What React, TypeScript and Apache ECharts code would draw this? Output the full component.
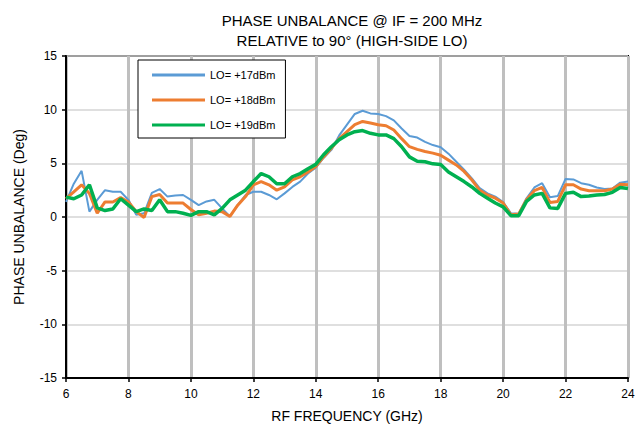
import React, { useEffect, useRef } from "react";
import * as echarts from "echarts";

const freq = [
  6.0, 6.25, 6.5, 6.75, 7.0, 7.25, 7.5, 7.75, 8.0, 8.25, 8.5, 8.75,
  9.0, 9.25, 9.5, 9.75, 10.0, 10.25, 10.5, 10.75, 11.0, 11.25, 11.5, 11.75,
  12.0, 12.25, 12.5, 12.75, 13.0, 13.25, 13.5, 13.75, 14.0, 14.25, 14.5, 14.75,
  15.0, 15.25, 15.5, 15.75, 16.0, 16.25, 16.5, 16.75, 17.0, 17.25, 17.5, 17.75,
  18.0, 18.25, 18.5, 18.75, 19.0, 19.25, 19.5, 19.75, 20.0, 20.25, 20.5, 20.75,
  21.0, 21.25, 21.5, 21.75, 22.0, 22.25, 22.5, 22.75, 23.0, 23.25, 23.5, 23.75,
  24.0,
];

const lo17 = [
  1.4, 3.1, 4.3, 0.5, 1.6, 2.5, 2.35, 2.35, 1.6, 0.2, 0.35, 2.25,
  2.6, 1.9, 2.0, 2.05, 1.6, 1.1, 1.45, 1.6, 0.8, 0.05, 1.1, 2.05,
  2.35, 2.35, 2.05, 1.65, 2.2, 2.8, 3.3, 4.05, 4.6, 5.5, 6.25, 7.6,
  8.6, 9.6, 9.9, 9.65, 9.6, 9.4, 9.0, 8.25, 7.55, 7.4, 7.0, 6.7,
  6.5, 5.9, 5.15, 4.4, 3.6, 2.7, 2.2, 1.9, 1.4, 0.35, 0.3, 1.75,
  2.75, 3.15, 1.85, 1.95, 3.55, 3.5, 3.15, 3.0, 2.75, 2.6, 2.65, 3.2,
  3.3,
];

const lo18 = [
  1.7, 2.35, 3.0, 2.2, 0.35, 1.4, 1.4, 1.8, 1.4, 0.5, -0.05, 1.9,
  2.1, 1.3, 1.3, 1.3, 0.7, 0.2, 0.35, 0.55, 0.5, 0.05, 1.1, 1.9,
  3.0, 3.3, 3.0, 2.5, 2.8, 3.45, 3.75, 4.2, 4.7, 5.6, 6.4, 7.3,
  7.95, 8.6, 8.9, 8.75, 8.6, 8.5, 8.1, 7.3, 6.55, 6.3, 6.1, 5.95,
  5.75, 5.3, 4.85, 4.25, 3.45, 2.5, 2.05, 1.75, 1.3, 0.2, 0.28, 1.6,
  2.45, 2.75, 1.35, 1.45, 3.0, 3.0, 2.6, 2.45, 2.45, 2.45, 2.6, 3.05,
  3.0,
];

const lo19 = [
  1.85, 1.7, 2.05, 3.0, 0.85, 0.6, 0.75, 1.7, 1.1, 0.5, 0.75, 0.6,
  1.6, 0.5, 0.5, 0.35, 0.15, 0.5, 0.5, 0.2, 0.8, 1.6, 2.05, 2.5,
  3.3, 4.05, 3.75, 3.1, 3.1, 3.75, 4.05, 4.5, 4.9, 5.8, 6.55, 7.2,
  7.65, 7.95, 8.05, 7.8, 7.65, 7.65, 7.3, 6.55, 5.6, 5.2, 5.15, 4.95,
  4.9, 4.2, 3.75, 3.3, 2.8, 2.2, 1.75, 1.3, 0.95, 0.12, 0.12, 1.45,
  2.05, 2.2, 0.85, 0.8, 2.2, 2.3, 1.9, 1.95, 2.05, 2.1, 2.3, 2.75,
  2.65,
];

const seriesNames = ["LO= +17dBm", "LO= +18dBm", "LO= +19dBm"];
const seriesColors = ["#5B9BD5", "#ED7D31", "#00B050"];
const seriesWidths = [2, 3, 3.5];
const titleLines = ["PHASE UNBALANCE @ IF = 200 MHz", "RELATIVE to 90\u00B0 (HIGH-SIDE LO)"];
const xName = "RF FREQUENCY (GHz)";
const yName = "PHASE UNBALANCE (Deg)";

const FONT = "'Liberation Sans', Arial, sans-serif";

export default function App() {
  const ref = useRef<HTMLDivElement>(null);
  useEffect(() => {
    if (!ref.current) return;
    const chart = echarts.init(ref.current, undefined, { renderer: "svg" });
    const all = [lo17, lo18, lo19];
    chart.setOption({
      animation: false,
      backgroundColor: "#ffffff",
      textStyle: { fontFamily: FONT, color: "#000" },
      title: {
        text: titleLines.join("\n"),
        left: 347,
        top: 5,
        textAlign: "center",
        textStyle: {
          fontFamily: FONT,
          fontSize: 15,
          fontWeight: "normal",
          color: "#000",
          lineHeight: 20,
        },
      },
      legend: {
        orient: "vertical",
        left: 138,
        top: 60,
        padding: [8, 10, 6, 14],
        itemGap: 11,
        itemWidth: 53,
        itemHeight: 3,
        icon: "rect",
        borderColor: "#000",
        borderWidth: 1,
        backgroundColor: "#fff",
        textStyle: { fontFamily: FONT, fontSize: 11, color: "#000", lineHeight: 14 },
        data: seriesNames,
      },
      grid: {
        left: 66,
        right: 15,
        top: 56,
        bottom: 52,
        show: true,
        borderColor: "#000",
        borderWidth: 2,
        backgroundColor: "transparent",
      },
      xAxis: {
        type: "value",
        min: 6,
        max: 24,
        interval: 2,
        name: xName,
        nameLocation: "middle",
        nameGap: 31,
        nameTextStyle: { fontFamily: FONT, fontSize: 14, color: "#000" },
        axisLine: { show: true, onZero: false, lineStyle: { color: "#000", width: 2 } },
        axisTick: { show: true, length: 4, lineStyle: { color: "#000", width: 1.5 } },
        axisLabel: { fontFamily: FONT, fontSize: 12, color: "#000", margin: 10 },
        splitLine: { show: true, lineStyle: { color: "#bfbfbf", width: 3 } },
      },
      yAxis: {
        type: "value",
        min: -15,
        max: 15,
        interval: 5,
        name: yName,
        nameLocation: "middle",
        nameGap: 40,
        nameTextStyle: { fontFamily: FONT, fontSize: 14, color: "#000" },
        axisLine: { show: true, onZero: false, lineStyle: { color: "#000", width: 2 } },
        axisTick: { show: true, length: 4, lineStyle: { color: "#000", width: 1.5 } },
        axisLabel: { fontFamily: FONT, fontSize: 12, color: "#000", margin: 9 },
        splitLine: { show: true, lineStyle: { color: "#d4d4d4", width: 1.5 } },
      },
      series: all.map((vals, i) => ({
        name: seriesNames[i],
        type: "line",
        data: freq.map((f, j) => [f, vals[j]]),
        showSymbol: false,
        symbol: "none",
        lineStyle: { color: seriesColors[i], width: seriesWidths[i] },
        itemStyle: { color: seriesColors[i] },
        z: 2 + i,
      })),
    });
    return () => chart.dispose();
  }, []);
  return (
    <div
      ref={ref}
      style={{ position: "fixed", left: 0, top: 0, width: 643, height: 430 }}
    />
  );
}
